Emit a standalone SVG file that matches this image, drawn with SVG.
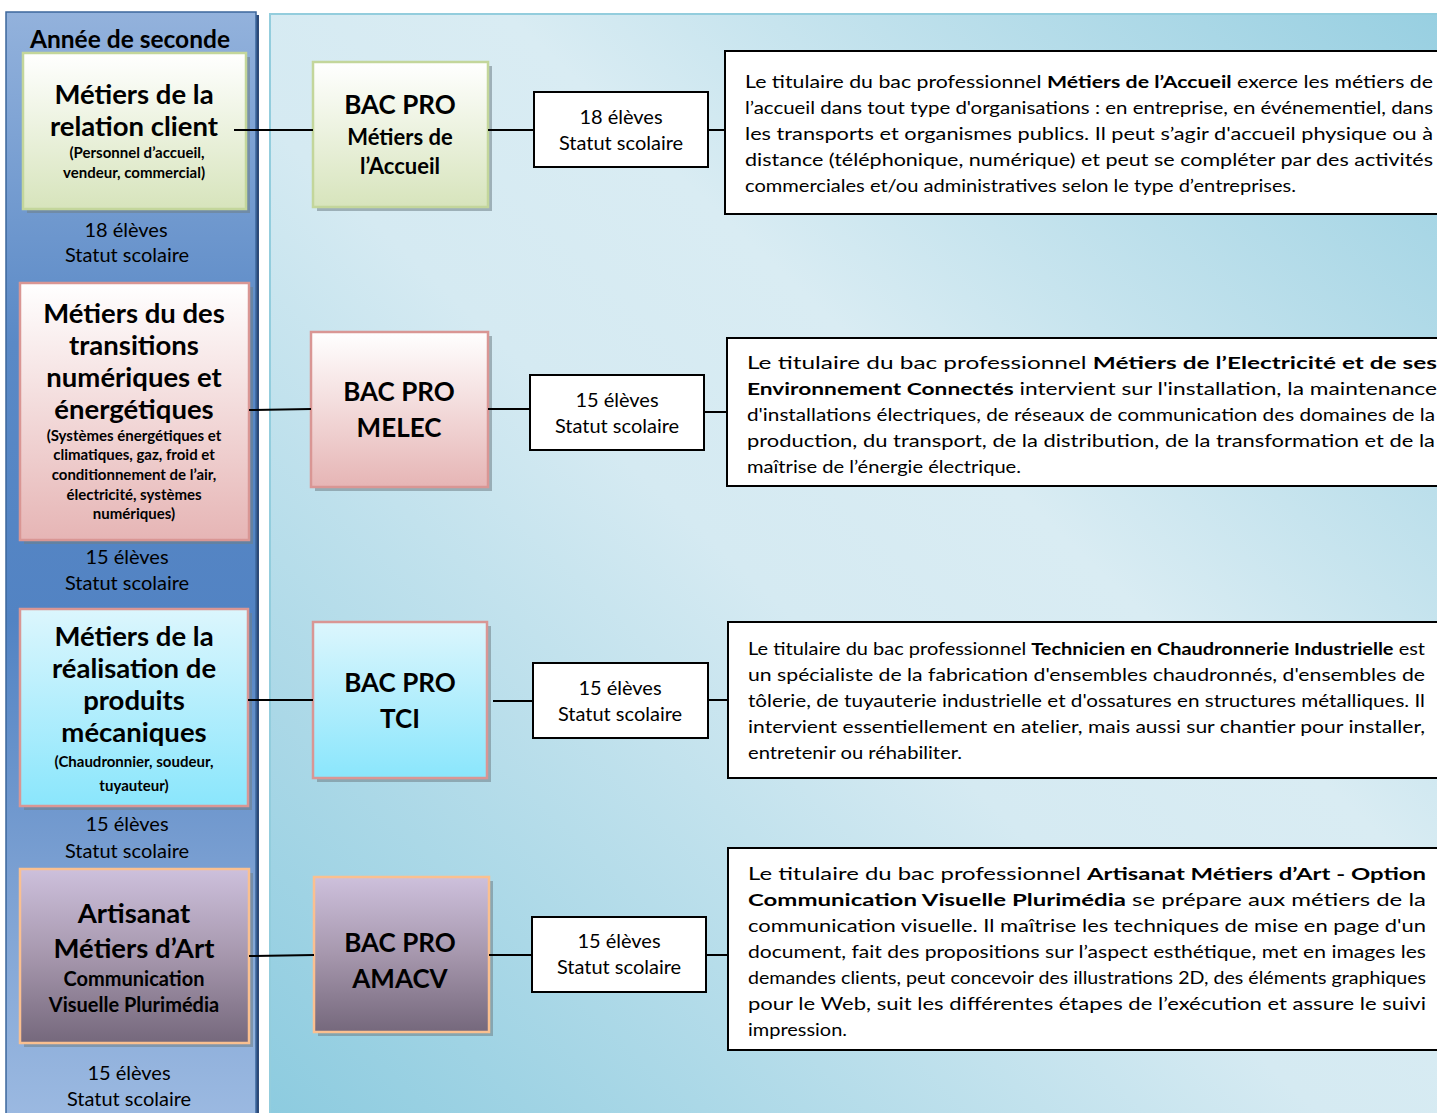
<svg xmlns="http://www.w3.org/2000/svg" width="1437" height="1113" viewBox="0 0 1437 1113">
<defs>
<linearGradient id="gCol" x1="0" y1="0" x2="0" y2="1">
<stop offset="0" stop-color="#93b2dc"/>
<stop offset="0.3" stop-color="#5a89c6"/>
<stop offset="0.55" stop-color="#5283c3"/>
<stop offset="0.8" stop-color="#7ea2d3"/>
<stop offset="1" stop-color="#9bb9e1"/>
</linearGradient>
<linearGradient id="gPanel" x1="0" y1="1" x2="1" y2="0">
<stop offset="0" stop-color="#8ccbdf"/>
<stop offset="0.45" stop-color="#d5eaf2"/>
<stop offset="0.6" stop-color="#d9ecf3"/>
<stop offset="1" stop-color="#97cfe1"/>
</linearGradient>
<linearGradient id="gGreen" x1="0" y1="0" x2="0" y2="1">
<stop offset="0" stop-color="#ffffff"/>
<stop offset="1" stop-color="#d7e4bc"/>
</linearGradient>
<linearGradient id="gPink" x1="0" y1="0" x2="0" y2="1">
<stop offset="0" stop-color="#ffffff"/>
<stop offset="1" stop-color="#e6b5b5"/>
</linearGradient>
<linearGradient id="gCyan" x1="0" y1="0" x2="0" y2="1">
<stop offset="0" stop-color="#dcf6fd"/>
<stop offset="1" stop-color="#8ae6fc"/>
</linearGradient>
<linearGradient id="gPurple" x1="0" y1="0" x2="0" y2="1">
<stop offset="0" stop-color="#cdc0dc"/>
<stop offset="0.5" stop-color="#a697ad"/>
<stop offset="1" stop-color="#75687c"/>
</linearGradient>
<style>
text{font-family:Lato,"Noto Sans",sans-serif;fill:#000}
.h{font-size:27.5px;font-weight:700;text-anchor:middle}
.hb{font-size:26px;font-weight:700;text-anchor:middle}
.h2{font-size:22px;font-weight:700;text-anchor:middle}
.s{font-size:15px;font-weight:700;text-anchor:middle}
.s18{font-size:20px;font-weight:700;text-anchor:middle}
.n{font-size:20px;text-anchor:middle}
.p{font-size:17.5px}
.b{font-weight:700}
.shadow{fill:#6f7f86;opacity:0.55}
.box{fill:#fff;stroke:#000;stroke-width:2}
.desc{fill:#fff;stroke:#000;stroke-width:2}
.ln{stroke:#000;stroke-width:2;fill:none}
</style>
</defs>

<g id="background">
<rect x="270" y="14" width="1180" height="1110" fill="url(#gPanel)" stroke="#93cddd" stroke-width="2"/>
<rect x="9" y="15" width="250" height="1105" fill="#2c4a78"/>
<rect x="6" y="12" width="250" height="1105" fill="url(#gCol)" stroke="#3d679c" stroke-width="1.5"/>
<text x="130" y="48" style="font-size:24.5px;font-weight:700;text-anchor:middle">Année de seconde</text>
</g>

<g id="seconde-relation-client">
<rect class="shadow" x="27" y="57" width="223" height="156"/>
<rect x="23" y="53" width="223" height="156" fill="url(#gGreen)" stroke="#c3d69b" stroke-width="2.5"/>
<text class="h" x="134" y="104">Métiers de la</text>
<text class="h" x="134" y="136">relation client</text>
<text class="s" x="137" y="158">(Personnel d’accueil,</text>
<text class="s" x="134" y="178">vendeur, commercial)</text>
<text class="n" x="126" y="237">18 élèves</text>
<text class="n" x="127" y="262">Statut scolaire</text>
</g>

<g id="seconde-transitions">
<rect class="shadow" x="24" y="287" width="229" height="257"/>
<rect x="20" y="283" width="229" height="257" fill="url(#gPink)" stroke="#d99694" stroke-width="2.5"/>
<text class="h" x="134" y="323">Métiers du des</text>
<text class="h" x="134" y="355">transitions</text>
<text class="h" x="134" y="387">numériques et</text>
<text class="h" x="134" y="419">énergétiques</text>
<text class="s" x="134" y="441">(Systèmes énergétiques et</text>
<text class="s" x="134" y="460">climatiques, gaz, froid et</text>
<text class="s" x="134" y="480">conditionnement de l’air,</text>
<text class="s" x="134" y="500">électricité, systèmes</text>
<text class="s" x="134" y="519">numériques)</text>
<text class="n" x="127" y="564">15 élèves</text>
<text class="n" x="127" y="590">Statut scolaire</text>
</g>

<g id="seconde-produits-mecaniques">
<rect class="shadow" x="24" y="613" width="228" height="197"/>
<rect x="20" y="609" width="228" height="197" fill="url(#gCyan)" stroke="#d99694" stroke-width="2.5"/>
<text class="h" x="134" y="646">Métiers de la</text>
<text class="h" x="134" y="678">réalisation de</text>
<text class="h" x="134" y="710">produits</text>
<text class="h" x="134" y="742">mécaniques</text>
<text class="s" x="134" y="767">(Chaudronnier, soudeur,</text>
<text class="s" x="134" y="791">tuyauteur)</text>
<text class="n" x="127" y="831">15 élèves</text>
<text class="n" x="127" y="858">Statut scolaire</text>
</g>

<g id="seconde-artisanat">
<rect class="shadow" x="24" y="873" width="229" height="174"/>
<rect x="20" y="869" width="229" height="174" fill="url(#gPurple)" stroke="#fac090" stroke-width="2.5"/>
<text class="h" x="134" y="923">Artisanat</text>
<text class="h" x="134" y="958">Métiers d’Art</text>
<text class="s18" x="134" y="986">Communication</text>
<text class="s18" x="134" y="1012">Visuelle Plurimédia</text>
<text class="n" x="129" y="1080">15 élèves</text>
<text class="n" x="129" y="1106">Statut scolaire</text>
</g>

<g id="bac-accueil">
<rect class="shadow" x="317" y="66" width="175" height="145"/>
<rect x="313" y="62" width="175" height="145" fill="url(#gGreen)" stroke="#c3d69b" stroke-width="2.5"/>
<text class="hb" x="400" y="114">BAC PRO</text>
<text class="h2" x="400" y="145">Métiers de</text>
<text class="h2" x="400" y="174">l’Accueil</text>
</g>

<g id="bac-melec">
<rect class="shadow" x="315" y="336" width="177" height="155"/>
<rect x="311" y="332" width="177" height="155" fill="url(#gPink)" stroke="#d99694" stroke-width="2.5"/>
<text class="hb" x="399" y="401">BAC PRO</text>
<text class="hb" x="399" y="437">MELEC</text>
</g>

<g id="bac-tci">
<rect class="shadow" x="317" y="626" width="174" height="156"/>
<rect x="313" y="622" width="174" height="156" fill="url(#gCyan)" stroke="#d99694" stroke-width="2.5"/>
<text class="hb" x="400" y="692">BAC PRO</text>
<text class="hb" x="400" y="728">TCI</text>
</g>

<g id="bac-amacv">
<rect class="shadow" x="318" y="881" width="175" height="155"/>
<rect x="314" y="877" width="175" height="155" fill="url(#gPurple)" stroke="#fac090" stroke-width="2.5"/>
<text class="hb" x="400" y="952">BAC PRO</text>
<text class="hb" x="400" y="988">AMACV</text>
</g>

<g id="effectif-accueil">
<rect class="box" x="534" y="92" width="174" height="75"/>
<text class="n" x="621" y="124">18 élèves</text>
<text class="n" x="621" y="150">Statut scolaire</text>
</g>
<g id="effectif-melec">
<rect class="box" x="530" y="375" width="174" height="75"/>
<text class="n" x="617" y="407">15 élèves</text>
<text class="n" x="617" y="433">Statut scolaire</text>
</g>
<g id="effectif-tci">
<rect class="box" x="533" y="663" width="175" height="75"/>
<text class="n" x="620" y="695">15 élèves</text>
<text class="n" x="620" y="721">Statut scolaire</text>
</g>
<g id="effectif-amacv">
<rect class="box" x="532" y="917" width="174" height="75"/>
<text class="n" x="619" y="948">15 élèves</text>
<text class="n" x="619" y="974">Statut scolaire</text>
</g>

<g id="desc-accueil">
<rect class="desc" x="725" y="51" width="730" height="163"/>
<text class="p" x="745" y="88" textLength="688" lengthAdjust="spacingAndGlyphs">Le titulaire du bac professionnel <tspan class="b">Métiers de l’Accueil</tspan> exerce les métiers de</text>
<text class="p" x="745" y="114" textLength="688" lengthAdjust="spacingAndGlyphs">l’accueil dans tout type d'organisations : en entreprise, en événementiel, dans</text>
<text class="p" x="745" y="140" textLength="688" lengthAdjust="spacingAndGlyphs">les transports et organismes publics. Il peut s’agir d'accueil physique ou à</text>
<text class="p" x="745" y="166" textLength="688" lengthAdjust="spacingAndGlyphs">distance (téléphonique, numérique) et peut se compléter par des activités</text>
<text class="p" x="745" y="192" textLength="551" lengthAdjust="spacingAndGlyphs">commerciales et/ou administratives selon le type d’entreprises.</text>
</g>

<g id="desc-melec">
<rect class="desc" x="727" y="338" width="730" height="148"/>
<text class="p" x="747" y="369" textLength="690" lengthAdjust="spacingAndGlyphs">Le titulaire du bac professionnel <tspan class="b">Métiers de l’Electricité et de ses</tspan></text>
<text class="p" x="747" y="395" textLength="690" lengthAdjust="spacingAndGlyphs"><tspan class="b">Environnement Connectés</tspan> intervient sur l'installation, la maintenance</text>
<text class="p" x="747" y="421" textLength="688" lengthAdjust="spacingAndGlyphs">d'installations électriques, de réseaux de communication des domaines de la</text>
<text class="p" x="747" y="447" textLength="688" lengthAdjust="spacingAndGlyphs">production, du transport, de la distribution, de la transformation et de la</text>
<text class="p" x="747" y="473" textLength="274" lengthAdjust="spacingAndGlyphs">maîtrise de l’énergie électrique.</text>
</g>

<g id="desc-tci">
<rect class="desc" x="728" y="622" width="730" height="156"/>
<text class="p" x="748" y="655" textLength="677" lengthAdjust="spacingAndGlyphs">Le titulaire du bac professionnel <tspan class="b">Technicien en Chaudronnerie Industrielle</tspan> est</text>
<text class="p" x="748" y="681" textLength="677" lengthAdjust="spacingAndGlyphs">un spécialiste de la fabrication d'ensembles chaudronnés, d'ensembles de</text>
<text class="p" x="748" y="707" textLength="677" lengthAdjust="spacingAndGlyphs">tôlerie, de tuyauterie industrielle et d'ossatures en structures métalliques. Il</text>
<text class="p" x="748" y="733" textLength="677" lengthAdjust="spacingAndGlyphs">intervient essentiellement en atelier, mais aussi sur chantier pour installer,</text>
<text class="p" x="748" y="759" textLength="214" lengthAdjust="spacingAndGlyphs">entretenir ou réhabiliter.</text>
</g>

<g id="desc-amacv">
<rect class="desc" x="728" y="848" width="730" height="202"/>
<text class="p" x="748" y="880" textLength="678" lengthAdjust="spacingAndGlyphs">Le titulaire du bac professionnel <tspan class="b">Artisanat Métiers d’Art - Option</tspan></text>
<text class="p" x="748" y="906" textLength="678" lengthAdjust="spacingAndGlyphs"><tspan class="b">Communication Visuelle Plurimédia</tspan> se prépare aux métiers de la</text>
<text class="p" x="748" y="932" textLength="678" lengthAdjust="spacingAndGlyphs">communication visuelle. Il maîtrise les techniques de mise en page d'un</text>
<text class="p" x="748" y="958" textLength="678" lengthAdjust="spacingAndGlyphs">document, fait des propositions sur l’aspect esthétique, met en images les</text>
<text class="p" x="748" y="984" textLength="678" lengthAdjust="spacingAndGlyphs">demandes clients, peut concevoir des illustrations 2D, des éléments graphiques</text>
<text class="p" x="748" y="1010" textLength="678" lengthAdjust="spacingAndGlyphs">pour le Web, suit les différentes étapes de l’exécution et assure le suivi</text>
<text class="p" x="748" y="1036" textLength="99" lengthAdjust="spacingAndGlyphs">impression.</text>
</g>

<g id="connectors">
<line class="ln" x1="234" y1="130" x2="313" y2="130" stroke-width="2.5"/>
<line class="ln" x1="488" y1="130" x2="534" y2="130"/>
<line class="ln" x1="708" y1="130" x2="725" y2="130"/>
<line class="ln" x1="249" y1="410" x2="311" y2="409"/>
<line class="ln" x1="488" y1="409" x2="530" y2="409"/>
<line class="ln" x1="704" y1="412" x2="727" y2="412"/>
<line class="ln" x1="248" y1="700" x2="313" y2="700"/>
<line class="ln" x1="493" y1="701" x2="533" y2="701"/>
<line class="ln" x1="708" y1="700" x2="728" y2="700"/>
<line class="ln" x1="249" y1="956" x2="314" y2="955"/>
<line class="ln" x1="489" y1="955" x2="532" y2="955" stroke-width="3"/>
<line class="ln" x1="706" y1="955" x2="728" y2="955"/>
</g>
</svg>
